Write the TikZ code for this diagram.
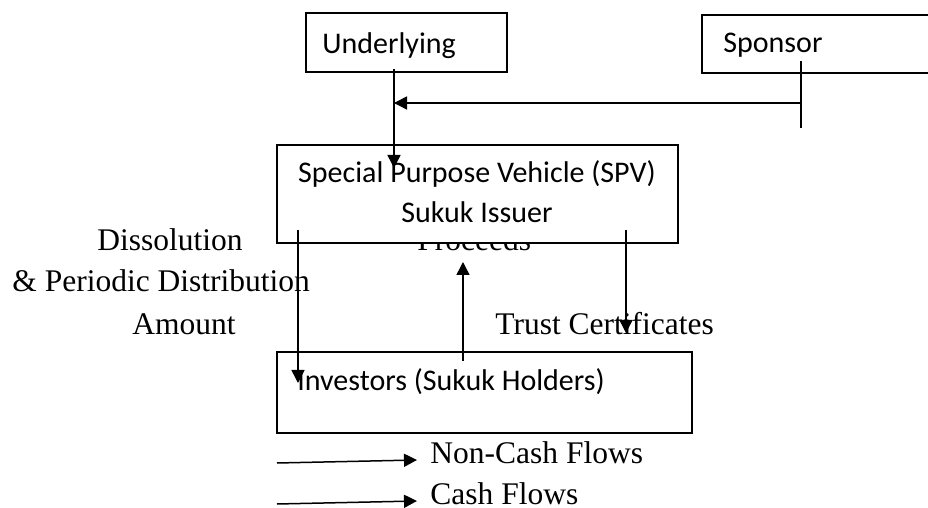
\documentclass[tikz,border=0pt]{standalone}
\usepackage{fontspec}
\setmainfont{Liberation Serif}
\newfontfamily\boxfont{Carlito}
\usetikzlibrary{arrows.meta}
\tikzset{
  boxnode/.style={draw=black, line width=0.8pt, fill=white, rectangle, inner sep=0pt},
  boxtext/.style={inner sep=0pt, font=\boxfont\fontsize{15}{18}\selectfont},
  lbl/.style={inner sep=0pt, anchor=base west, font=\fontsize{15.75}{18}\selectfont},
  conn/.style={line width=0.75pt},
  arr/.style={line width=0.75pt, -{Triangle[length=6.5pt,width=6.5pt]}}
}
\begin{document}
\begin{tikzpicture}[x=0.5pt,y=-0.5pt]
\clip (0,0) rectangle (928,508);
\useasboundingbox (0,0) rectangle (928,508);
% top boxes
\node[boxnode, minimum width=100.5pt, minimum height=29.5pt] (und) at (406.5,42.5) {};
\node[boxtext, anchor=base west] (undt) at (322,54) {Underlying};
\node[boxnode, minimum width=116.5pt, minimum height=29pt] (spon) at (818.5,44) {};
\node[boxtext, anchor=base west] (spont) at (723,53) {Sponsor};
% label under SPV box (partly hidden)
\node[lbl] (proc) at (417,250) {Proceeds};
% SPV box
\node[boxnode, minimum width=200.5pt, minimum height=49pt] (spv) at (477.5,194) {};
\node[boxtext, anchor=base] (spv1) at (477,183) {Special Purpose Vehicle (SPV)};
\node[boxtext, anchor=base] (spv2) at (477,223) {Sukuk Issuer};
% Investors box
\node[boxnode, minimum width=207.5pt, minimum height=40.5pt] (inv) at (484.5,392.5) {};
\node[boxtext, anchor=base west] (invt) at (297,390) {Investors (Sukuk Holders)};
% labels
\node[lbl] (diss) at (97,251) {Dissolution};
\node[lbl] (peri) at (12,292) {\& Periodic Distribution};
\node[lbl] (amt) at (132,335) {Amount};
\node[lbl] (trust) at (495,335) {Trust Certificates};
\node[lbl] (ncf) at (430,463) {Non-Cash Flows};
\node[lbl] (cf) at (430,504) {Cash Flows};
% coordinates
\coordinate (u1) at (394,69);
\coordinate (u2) at (394,168);
\coordinate (s1) at (801,61);
\coordinate (s2) at (801,128);
\coordinate (s3) at (801,103);
\coordinate (s4) at (394,103);
\coordinate (l1) at (298,230);
\coordinate (l2) at (298,383);
\coordinate (r1) at (626,230);
\coordinate (r2) at (626,333);
\coordinate (m1) at (463,361);
\coordinate (m2) at (463,262);
\coordinate (g1) at (277,463);
\coordinate (g2) at (417,460);
\coordinate (g3) at (277,504);
\coordinate (g4) at (417,501);
% connectors
\draw[arr] (u1) -- (u2);
\draw[conn] (s1) -- (s2);
\draw[arr] (s3) -- (s4);
\draw[arr] (l1) -- (l2);
\draw[arr] (r1) -- (r2);
\draw[arr] (m1) -- (m2);
\draw[arr] (g1) -- (g2);
\draw[arr] (g3) -- (g4);
\end{tikzpicture}
\end{document}
